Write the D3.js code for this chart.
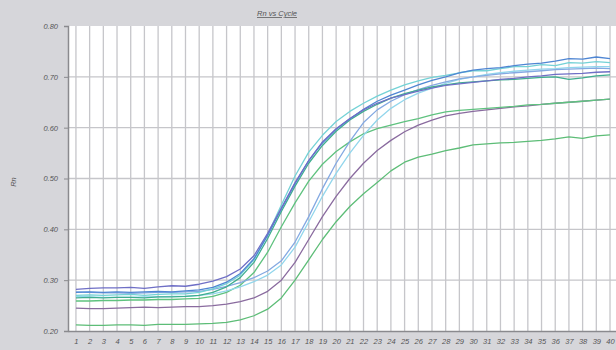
<!DOCTYPE html>
<html>
<head>
<meta charset="utf-8">
<script src="https://cdn.jsdelivr.net/npm/d3@7"></script>
<style>
  html, body { margin: 0; padding: 0; background: #d6d6da; overflow: hidden; }
  svg { display: block; }
  text { font-family: "Liberation Sans", Arial, sans-serif; font-style: italic; fill: #555; }
</style>
</head>
<body>
<svg id="chart"></svg>
<script>
const cycles = d3.range(1, 41);
const yTicks = [0.20, 0.30, 0.40, 0.50, 0.60, 0.70, 0.80];

const blueViolet = [0.282,0.284,0.285,0.285,0.286,0.284,0.287,0.289,0.288,0.292,
  0.298,0.307,0.322,0.348,0.392,0.442,0.492,0.535,0.572,0.598,
  0.618,0.635,0.648,0.658,0.665,0.672,0.678,0.683,0.686,0.689,
  0.692,0.695,0.697,0.700,0.702,0.705,0.706,0.707,0.709,0.710];
const blue = [0.276,0.277,0.276,0.277,0.276,0.277,0.278,0.277,0.279,0.281,
  0.286,0.296,0.313,0.342,0.388,0.440,0.490,0.535,0.570,0.597,
  0.617,0.636,0.652,0.664,0.674,0.684,0.693,0.700,0.708,0.713,
  0.716,0.718,0.722,0.725,0.727,0.731,0.736,0.735,0.739,0.736];
const cyan = [0.270,0.271,0.270,0.271,0.272,0.270,0.272,0.273,0.273,0.276,
  0.283,0.293,0.310,0.340,0.390,0.448,0.505,0.552,0.585,0.612,
  0.632,0.648,0.662,0.674,0.684,0.692,0.699,0.703,0.708,0.712,
  0.712,0.716,0.720,0.720,0.724,0.722,0.728,0.727,0.730,0.728];
const teal = [0.265,0.266,0.265,0.266,0.266,0.265,0.267,0.267,0.268,0.270,
  0.276,0.287,0.305,0.335,0.382,0.435,0.485,0.530,0.565,0.593,
  0.615,0.632,0.646,0.658,0.667,0.674,0.680,0.684,0.688,0.690,
  0.692,0.694,0.695,0.697,0.699,0.700,0.695,0.698,0.702,0.704];
const green = [0.259,0.259,0.260,0.260,0.261,0.261,0.262,0.262,0.263,0.264,
  0.268,0.276,0.290,0.315,0.355,0.405,0.452,0.495,0.528,0.553,
  0.572,0.588,0.598,0.605,0.612,0.618,0.625,0.631,0.634,0.636,
  0.638,0.640,0.642,0.645,0.646,0.648,0.650,0.652,0.654,0.656];
const lightBlue = [0.277,0.276,0.275,0.275,0.274,0.275,0.276,0.276,0.277,0.278,
  0.282,0.288,0.295,0.305,0.318,0.338,0.375,0.425,0.480,0.530,
  0.573,0.610,0.635,0.652,0.665,0.675,0.683,0.690,0.696,0.700,
  0.703,0.706,0.708,0.710,0.712,0.714,0.715,0.716,0.717,0.716];
const lightCyan = [0.268,0.267,0.266,0.266,0.266,0.267,0.267,0.268,0.268,0.270,
  0.273,0.279,0.287,0.297,0.310,0.330,0.365,0.415,0.465,0.510,
  0.550,0.585,0.615,0.638,0.655,0.668,0.678,0.687,0.695,0.700,
  0.705,0.708,0.711,0.713,0.715,0.716,0.718,0.719,0.720,0.720];
const purple = [0.245,0.244,0.244,0.245,0.246,0.247,0.246,0.247,0.248,0.248,
  0.250,0.253,0.258,0.265,0.278,0.300,0.335,0.380,0.425,0.465,
  0.500,0.530,0.555,0.575,0.592,0.605,0.615,0.623,0.628,0.632,
  0.635,0.638,0.641,0.643,0.646,0.648,0.650,0.652,0.654,0.656];
const greenLow = [0.212,0.211,0.211,0.212,0.212,0.211,0.213,0.213,0.213,0.214,
  0.215,0.217,0.222,0.230,0.243,0.265,0.300,0.340,0.380,0.415,
  0.445,0.470,0.492,0.515,0.532,0.542,0.548,0.555,0.560,0.566,
  0.568,0.570,0.571,0.573,0.575,0.578,0.582,0.579,0.584,0.586];

const seriesValues = [greenLow, purple, green, lightCyan, lightBlue, teal, cyan, blue, blueViolet];
const seriesColors = ['#5dbd77', '#8a6b9f', '#5fc27f', '#92d6ec', '#84a9e2', '#3fae8f', '#74d2d6', '#4f86d3', '#6f6fc6'];

const width = 616, height = 350;
const margin = { top: 26, right: -4, bottom: 19, left: 68 };
const chartWidth = width - margin.left - margin.right;
const chartHeight = height - margin.top - margin.bottom;

const svg = d3.select('#chart').attr('width', width).attr('height', height);
const g = svg.append('g').attr('transform', `translate(${margin.left},${margin.top})`);

const xScale = d3.scaleLinear().domain([0.42, 40.73]).range([0, chartWidth]);
const yScale = d3.scaleLinear().domain([0.2, 0.8]).range([chartHeight, 0]);

// plot background
g.append('rect')
  .attr('width', chartWidth)
  .attr('height', chartHeight)
  .attr('fill', '#ffffff');

// grid
g.append('g')
  .selectAll('line')
  .data(cycles)
  .enter()
  .append('line')
  .attr('x1', d => xScale(d)).attr('x2', d => xScale(d))
  .attr('y1', 0).attr('y2', chartHeight)
  .attr('stroke', '#c6c6ca')
  .attr('stroke-width', 1.3);

g.append('g')
  .selectAll('line')
  .data(yTicks.slice(1, -1))
  .enter()
  .append('line')
  .attr('x1', 0).attr('x2', chartWidth)
  .attr('y1', d => yScale(d)).attr('y2', d => yScale(d))
  .attr('stroke', '#c6c6ca')
  .attr('stroke-width', 1.3);

// axes
const yAxis = d3.axisLeft(yScale).tickValues(yTicks).tickSize(4).tickFormat(d3.format('.2f'));
const yG = g.append('g').call(yAxis);
yG.select('.domain').attr('stroke', '#8a8a8e').attr('stroke-width', 1.5);
yG.selectAll('.tick line').attr('stroke', '#8a8a8e');
yG.selectAll('text').style('font-size', '7.5px').attr('x', -10).attr('fill', '#555');

const xAxis = d3.axisBottom(xScale).tickValues(cycles).tickSize(0).tickFormat(d3.format('d'));
const xG = g.append('g').attr('transform', `translate(0,${chartHeight})`).call(xAxis);
xG.select('.domain').attr('stroke', '#8a8a8e').attr('stroke-width', 1.5);
xG.selectAll('text').style('font-size', '7.5px').attr('y', 8).attr('fill', '#555');

// lines
const line = d3.line()
  .x((d, i) => xScale(cycles[i]))
  .y(d => yScale(d));

g.append('g')
  .selectAll('path')
  .data(seriesValues)
  .enter()
  .append('path')
  .attr('d', d => line(d))
  .attr('fill', 'none')
  .attr('stroke', (d, i) => seriesColors[i])
  .attr('stroke-width', 1.3)
  .attr('stroke-linejoin', 'round');

// title
svg.append('text')
  .attr('x', 277)
  .attr('y', 16)
  .attr('text-anchor', 'middle')
  .style('font-size', '7.5px')
  .style('text-decoration', 'underline')
  .text('Rn vs Cycle');

// y axis label
svg.append('text')
  .attr('transform', 'rotate(-90)')
  .attr('x', -182)
  .attr('y', 16)
  .attr('text-anchor', 'middle')
  .style('font-size', '7.5px')
  .text('Rn');
</script>
</body>
</html>
